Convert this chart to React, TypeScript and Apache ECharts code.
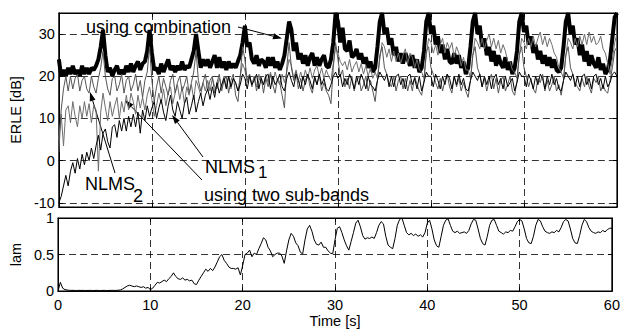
import React, { useEffect, useRef } from "react";
import * as echarts from "echarts";

const STEP = 0.25; // seconds between samples

const X_TICKS = [0, 10, 20, 30, 40, 50, 60];
const ERLE_TICKS = [-10, 0, 10, 20, 30];
const LAM_TICKS = [0, 0.5, 1];

const COMBINATION = [
  24, 20, 21.5, 20, 22, 20.5, 22.5, 20.5, 21.5, 20, 22.5, 20.5, 22, 20.5, 22, 21.5,
  22.5, 24, 27, 31, 25, 21, 22, 20, 21.5, 22.5, 20.5, 21.5, 20.5, 22.5, 21, 23,
  21, 22.5, 23.5, 21.5, 23, 23.5, 26, 31, 25.5, 21.5, 22, 20.5, 23, 21, 22.5, 24,
  21.5, 22.5, 21, 22.5, 21.5, 23.5, 21.5, 22.5, 22, 24, 26, 30, 26, 22, 24, 22.5,
  24, 22, 23.5, 25, 22, 24.5, 22, 23.5, 21.5, 23.5, 22, 23, 22, 23.5, 25, 28,
  32, 27, 28, 24, 23, 25, 22.5, 24, 23.5, 22, 24.5, 22.5, 24.5, 22, 23.5, 21.5,
  23, 25, 29, 33, 31, 26, 28, 24, 25.5, 23, 25, 22.5, 24.5, 25.5, 22.5, 24.5,
  22.5, 24, 25, 22.5, 22, 24, 28, 35, 33, 28, 31.5, 26.5, 26, 28.5, 24.5, 25,
  26.5, 24, 25.5, 23, 24.5, 22, 23.5, 21, 22, 27, 33, 35, 30, 31.5, 27.5, 29,
  25, 27, 23.5, 25.5, 23, 25.5, 24, 22.5, 25, 22, 24, 21, 22, 26, 33, 35,
  30, 32, 27.5, 29.5, 25.5, 27.5, 24, 26.5, 23.5, 23, 25.5, 23, 25, 22, 23.5, 20.5,
  22, 27, 33, 35, 30, 32, 27, 29, 25, 27, 23.5, 26, 22.5, 25, 23, 22,
  24.5, 21.5, 23.5, 20.5, 22, 26, 33, 35, 30.5, 32, 27.5, 29.5, 25.5, 27.5, 24, 26,
  23, 25, 22.5, 24.5, 22, 24, 21.5, 21, 22, 27, 33, 35, 30, 32, 27.5, 29,
  25, 27.5, 23.5, 26, 22.5, 25, 23, 22, 24.5, 21.5, 23, 20.5, 21.5, 24, 29, 34,
  35,
];

const NLMS1 = [
  -10, -8.5, -6, -3.5, -6, -2.5, -0.5, -3, 0.5, -2, 1.5, -1, 2, 0, 3, 0.5,
  3.5, 6, 2.5, 6.5, 7.5, 4.5, 3, 8, 8.5, 5.5, 9.5, 7, 10, 7, 10.5, 8,
  11, 8, 11.5, 6.5, 12, 9.5, 13, 10.5, 12.5, 14, 10, 12.5, 14.5, 11.5, 9.5, 13,
  15.5, 12, 10.5, 14, 12, 10, 13.5, 15, 11, 13, 15.5, 11.5, 14, 16, 13, 15.5,
  17, 14.5, 17.5, 15, 18.5, 16, 18, 19.5, 17, 20, 17.5, 19.5, 18.5, 16.5, 18, 20.5,
  19.5, 17, 20, 18, 19, 20.5, 17, 19.5, 18, 20, 20.5, 17, 20, 18, 19, 20.5,
  17.5, 16.5, 19.5, 21, 19, 17.5, 20.5, 19, 17, 20, 18, 20.5, 19, 17, 20, 18,
  20.5, 18, 19.5, 17, 16.5, 18, 20, 21, 19.5, 20.5, 17.5, 19.5, 18, 20.5, 19, 17,
  20, 18, 20.5, 19, 17, 20, 18, 17.5, 16.5, 19, 21, 20, 19, 20.5, 17.5, 20,
  17.5, 20, 20.5, 18, 19.5, 17, 20, 20.5, 18, 19.5, 17, 20, 16.5, 18.5, 21, 20,
  20, 17.5, 20.5, 19, 17, 20, 18, 20.5, 19.5, 17, 20, 18, 20.5, 18, 19.5, 17,
  16.5, 19, 21, 20, 19, 20.5, 17.5, 20, 18, 20, 17, 19.5, 20.5, 18, 19.5, 17,
  20, 17.5, 18.5, 19.5, 16.5, 18.5, 21, 20, 20, 17.5, 20.5, 19, 17, 20, 18, 20.5,
  19.5, 17, 20, 18, 20.5, 18, 19.5, 17, 16.5, 19, 21, 20, 19, 20.5, 17.5, 20,
  17.5, 20, 20.5, 18, 19.5, 17, 20, 20.5, 18, 19.5, 17, 20, 17.5, 18.5, 20.5, 21,
  20,
];

const NLMS2 = [
  2, 12, 17, 20, 16.5, 20, 17, 19.5, 20.5, 16.5, 19, 20, 17, 16, 20, 17.5,
  16, 19.5, 22, 26, 20, 17, 15.5, 19.5, 20, 16.5, 18, 20.5, 16, 19, 20, 16.5,
  18, 20.5, 16.5, 19, 15, 19, 21, 27, 19, 14, 17.5, 20, 16, 19.5, 17.5, 15.5,
  19, 20.5, 16, 18.5, 20, 16.5, 18, 20, 16, 18.5, 21, 26, 19, 16.5, 18.5, 20.5,
  16.5, 19, 20, 16, 18.5, 20.5, 16.5, 19, 20, 16, 19, 20.5, 15.5, 14, 20, 27,
  24, 19, 20.5, 17.5, 20, 16.5, 19, 20, 16, 19.5, 17.5, 20.5, 18, 16, 19.5, 18.5,
  15.5, 12.5, 22, 28, 22, 19, 21, 17, 19.5, 16.5, 19, 20.5, 17.5, 16, 19.5, 18,
  20.5, 16.5, 18.5, 16.5, 15.5, 13.5, 22, 28, 24, 20, 21.5, 17.5, 19.5, 17, 20, 16.5,
  19, 20, 16.5, 18, 20, 16.5, 19, 16.5, 14, 19, 25, 27, 22, 20.5, 18.5, 17.5,
  20, 16.5, 19, 20, 17, 19.5, 16.5, 19, 16.5, 20, 18, 16.5, 15.5, 19, 26, 27,
  22, 20.5, 18.5, 17, 19.5, 16.5, 19, 20.5, 17.5, 16, 20, 17.5, 19.5, 16.5, 18.5, 16.5,
  15, 19, 25, 27, 22, 20.5, 17.5, 19.5, 16.5, 19, 20.5, 17, 19.5, 16, 19, 20,
  16.5, 18, 20, 16.5, 15.5, 19, 25, 27, 22, 20, 17.5, 19.5, 17, 16, 19.5, 18.5,
  20.5, 16.5, 19, 16.5, 18, 20, 16.5, 18, 15.5, 19, 25, 27, 22, 20.5, 18.5, 17.5,
  16.5, 19.5, 17.5, 20, 17.5, 16, 19.5, 18.5, 20, 16.5, 18, 16.5, 16, 19, 22, 26,
  27,
];

const SUBBANDS = [
  5, 11, 3.5, 12, 13, 9, 14, 10.5, 8, 13, 10, 14, 10.5, 13.5, 9, 13,
  12, -2.5, 11.5, 16, 12.5, 9.5, 14, 10.5, 13, 15, 10, 14, 11.5, 15.5, 12, 16,
  14, 11, 15.5, 12.5, 15, 12, 15.5, 17.5, 14.5, 10.5, 13, 16, 13.5, 17, 13, 16,
  17.5, 13.5, 16, 18, 14.5, 17.5, 13.5, 17.5, 15.5, 18, 14.5, 19, 17.5, 15.5, 18.5, 16.5,
  19, 16.5, 19.5, 17.5, 17, 19.5, 17.5, 20, 17.5, 20, 17, 19.5, 18.5, 16.5, 20, 23,
  21.5, 18.5, 20.5, 18, 20, 17.5, 20.5, 18.5, 18, 20.5, 18.5, 21, 18.5, 21, 19, 18,
  20.5, 18.5, 21, 24, 22.5, 19.5, 21.5, 19, 21, 19, 21.5, 19.5, 22, 19.5, 21.5, 22.5,
  20, 22, 19.5, 21.5, 20, 19, 23, 27, 25.5, 23.5, 22.5, 23.5, 21.5, 24, 21, 22.5,
  23.5, 21, 23, 20.5, 22.5, 20, 22, 19.5, 21, 19.5, 24, 28, 27, 24.5, 26.5, 23.5,
  26, 23.5, 25.5, 23, 25, 26.5, 23, 25.5, 24.5, 22, 24, 21.5, 21, 19.5, 25, 29,
  28, 25.5, 27.5, 25, 27.5, 29, 25.5, 28, 26.5, 28, 24.5, 27, 25.5, 22.5, 24.5, 21.5,
  21.5, 19.5, 25, 29, 28, 26.5, 29, 26.5, 28.5, 30, 27, 29, 26.5, 28.5, 25.5, 27.5,
  26, 23.5, 23.5, 21.5, 21, 19.5, 25, 29, 28, 26.5, 29, 27, 29.5, 27, 29, 30.5,
  27.5, 29.5, 27, 29, 27.5, 25.5, 24.5, 22, 21, 19.5, 25, 29, 28, 26.5, 29, 27,
  29.5, 27.5, 30, 27.5, 30.5, 28, 29.5, 27.5, 28, 29.5, 26.5, 25.5, 23, 20.5, 24, 28,
  30,
];

const LAM = [
  0, 0.12, 0.04, 0.02, 0.015, 0.01, 0.01, 0.01, 0.008, 0.01, 0.009, 0.01, 0.008, 0.009, 0.01, 0.008,
  0.009, 0.01, 0.008, 0.009, 0.01, 0.008, 0.009, 0.01, 0.01, 0.009, 0.012, 0.015, 0.03, 0.05, 0.07, 0.08,
  0.07, 0.06, 0.07, 0.06, 0.05, 0.06, 0.04, 0.05, 0.02, 0.04, 0.08, 0.12, 0.11, 0.13, 0.15, 0.13,
  0.17, 0.2, 0.25, 0.2, 0.17, 0.16, 0.18, 0.15, 0.16, 0.14, 0.15, 0.1, 0.09, 0.15, 0.2, 0.25,
  0.3, 0.27, 0.31, 0.28, 0.33, 0.4, 0.47, 0.5, 0.42, 0.38, 0.33, 0.31, 0.31, 0.3, 0.32, 0.22,
  0.35, 0.5, 0.52, 0.56, 0.47, 0.52, 0.5, 0.58, 0.65, 0.73, 0.7, 0.6, 0.55, 0.47, 0.5, 0.52,
  0.52, 0.48, 0.38, 0.55, 0.7, 0.79, 0.75, 0.66, 0.62, 0.53, 0.51, 0.7, 0.85, 0.9, 0.82, 0.7,
  0.64, 0.63, 0.67, 0.6, 0.6, 0.55, 0.52, 0.51, 0.7, 0.86, 0.88, 0.8, 0.7, 0.62, 0.56, 0.68,
  0.8, 0.93, 0.97, 0.88, 0.76, 0.71, 0.73, 0.72, 0.74, 0.72, 0.8, 0.9, 0.95, 0.92, 0.75, 0.63,
  0.6, 0.58, 0.72, 0.9, 0.98, 1.0, 0.9, 0.8, 0.77, 0.79, 0.76, 0.78, 0.75, 0.77, 0.74, 0.8,
  0.93, 0.97, 0.85, 0.7, 0.62, 0.6, 0.75, 0.9, 0.97, 0.99, 0.9, 0.82, 0.8, 0.82, 0.79, 0.8,
  0.81, 0.79, 0.83, 0.92, 0.98, 0.97, 0.85, 0.72, 0.65, 0.63, 0.75, 0.9, 0.97, 0.98, 0.9, 0.82,
  0.8, 0.78, 0.81, 0.8, 0.83, 0.82, 0.88, 0.95, 0.98, 0.96, 0.85, 0.72, 0.66, 0.65, 0.75, 0.9,
  0.98, 0.96, 0.88, 0.82, 0.8, 0.79, 0.81, 0.8, 0.83, 0.81, 0.87, 0.95, 0.98, 0.96, 0.85, 0.72,
  0.66, 0.65, 0.76, 0.9, 0.98, 0.95, 0.87, 0.82, 0.8, 0.79, 0.81, 0.8, 0.83, 0.81, 0.84, 0.86,
  0.86,
];

const FONT = "'Liberation Sans', Arial, Helvetica, sans-serif";

function toPairs(arr: number[]): [number, number][] {
  return arr.map((v, i) => [i * STEP, v]);
}

function arrow(x1: number, y1: number, x2: number, y2: number) {
  const dx = x2 - x1;
  const dy = y2 - y1;
  const len = Math.hypot(dx, dy);
  const ux = dx / len;
  const uy = dy / len;
  const hl = 9;
  const hw = 3;
  const bx = x2 - ux * hl;
  const by = y2 - uy * hl;
  return [
    { type: "line", shape: { x1, y1, x2: bx, y2: by }, style: { stroke: "#000", lineWidth: 1 } },
    {
      type: "polygon",
      shape: { points: [[x2, y2], [bx - uy * hw, by + ux * hw], [bx + uy * hw, by - ux * hw]] },
      style: { fill: "#000" },
    },
  ];
}

function txt(x: number, y: number, text: string, size = 18) {
  return {
    type: "text",
    x,
    y,
    style: { text, fill: "#000", font: `${size}px ${FONT}`, textVerticalAlign: "middle", lineHeight: 14 },
  };
}

export default function App() {
  const ref = useRef<HTMLDivElement>(null);

  useEffect(() => {
    if (!ref.current) return;
    const chart = echarts.init(ref.current, undefined, { renderer: "svg" });

    const tick = { show: true, inside: true, length: 4, lineStyle: { color: "#000", width: 1 } };
    const split = { show: true, lineStyle: { color: "#000", type: [7, 4], width: 0.8 } };
    const line = { show: true, onZero: false, lineStyle: { color: "#000", width: 1 } };
    const label = { color: "#000", fontSize: 14.5, fontFamily: FONT };

    const option: any = {
      animation: false,
      backgroundColor: "#fff",
      textStyle: { fontFamily: FONT },
      grid: [
        { left: 55, top: 13, width: 562, height: 194, show: true, borderColor: "#000", borderWidth: 1.2, backgroundColor: "transparent" },
        { left: 55, top: 218, width: 562, height: 76, show: true, borderColor: "#000", borderWidth: 1.2, backgroundColor: "transparent" },
      ],
      xAxis: [
        { type: "value", gridIndex: 0, min: 0, max: 60, interval: 10, axisLine: line, axisTick: tick, splitLine: split, axisLabel: { show: false } },
        {
          type: "value", gridIndex: 1, min: 0, max: 60, interval: 10, axisLine: line, axisTick: tick, splitLine: split,
          axisLabel: { ...label, margin: 6, showMinLabel: true, showMaxLabel: true, customValues: X_TICKS },
          name: "Time [s]", nameLocation: "middle", nameGap: 19, nameTextStyle: { ...label },
        },
        { type: "value", gridIndex: 0, position: "top", min: 0, max: 60, interval: 10, axisLine: line, axisTick: tick, splitLine: { show: false }, axisLabel: { show: false } },
        { type: "value", gridIndex: 1, position: "top", min: 0, max: 60, interval: 10, axisLine: line, axisTick: tick, splitLine: { show: false }, axisLabel: { show: false } },
      ],
      yAxis: [
        {
          type: "value", gridIndex: 0, min: -11, max: 35,
          axisLine: line, axisTick: { ...tick, customValues: ERLE_TICKS }, splitLine: split,
          axisLabel: { ...label, margin: 4, customValues: ERLE_TICKS },
          name: "ERLE [dB]", nameLocation: "middle", nameGap: 28, nameTextStyle: { ...label },
        },
        {
          type: "value", gridIndex: 1, min: 0, max: 1, interval: 0.5,
          axisLine: line, axisTick: { ...tick, customValues: LAM_TICKS }, splitLine: split,
          axisLabel: { ...label, margin: 4, showMinLabel: true, showMaxLabel: true, customValues: LAM_TICKS },
          name: "lam", nameLocation: "middle", nameGap: 27, nameTextStyle: { ...label },
        },
        { type: "value", gridIndex: 0, position: "right", min: -11, max: 35, axisLine: line, axisTick: { ...tick, customValues: ERLE_TICKS }, splitLine: { show: false }, axisLabel: { show: false } },
        { type: "value", gridIndex: 1, position: "right", min: 0, max: 1, interval: 0.5, axisLine: line, axisTick: tick, splitLine: { show: false }, axisLabel: { show: false } },
      ],
      series: [
        { name: "combination", type: "line", xAxisIndex: 0, yAxisIndex: 0, data: toPairs(COMBINATION), showSymbol: false, lineStyle: { color: "#000", width: 4 }, z: 2 },
        { name: "two sub-bands", type: "line", xAxisIndex: 0, yAxisIndex: 0, data: toPairs(SUBBANDS), showSymbol: false, lineStyle: { color: "#6e6e6e", width: 1 }, z: 3 },
        { name: "NLMS2", type: "line", xAxisIndex: 0, yAxisIndex: 0, data: toPairs(NLMS2), showSymbol: false, lineStyle: { color: "#555", width: 1 }, z: 3 },
        { name: "NLMS1", type: "line", xAxisIndex: 0, yAxisIndex: 0, data: toPairs(NLMS1), showSymbol: false, lineStyle: { color: "#000", width: 1 }, z: 3 },
        { name: "lam", type: "line", xAxisIndex: 1, yAxisIndex: 1, data: toPairs(LAM), showSymbol: false, lineStyle: { color: "#000", width: 1 }, z: 3 },
      ],
      graphic: [
        txt(86, 27, "using combination"),
        ...arrow(238, 27, 282, 38.5),
        txt(85, 184, "NLMS"),
        txt(133, 196, "2"),
        ...arrow(115, 173, 90, 92),
        txt(205, 167, "NLMS"),
        txt(258, 172, "1", 17),
        ...arrow(203, 157, 172, 115),
        txt(204, 195, "using two sub-bands"),
        ...arrow(202, 180, 125, 100),
      ],
    };

    chart.setOption(option);
    return () => chart.dispose();
  }, []);

  return <div ref={ref} style={{ position: "fixed", left: 0, top: 0, width: 623, height: 329 }} />;
}
